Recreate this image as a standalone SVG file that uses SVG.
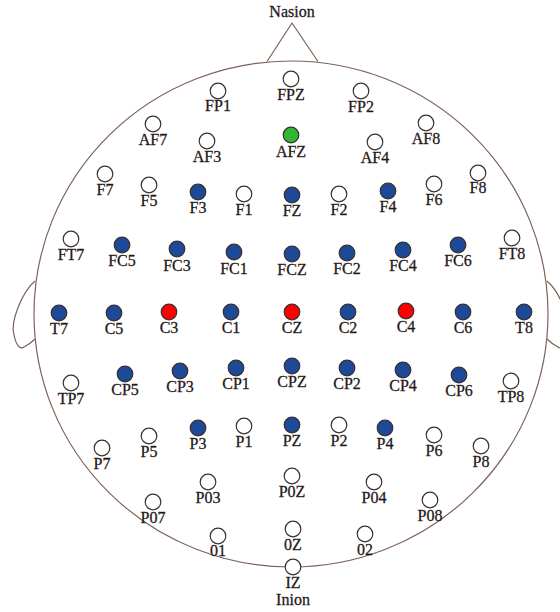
<svg xmlns="http://www.w3.org/2000/svg" width="560" height="612" viewBox="0 0 560 612">
<style>
.head{fill:none;stroke:#7d625a;stroke-width:1.2}
.e{stroke:#3a3030;stroke-width:1.2}
.w{fill:#ffffff}
.b{fill:#1c4a98}
.r{fill:#ff0000}
.g{fill:#2fb82f}
text{font-family:"Liberation Serif","Times New Roman",serif;font-size:16px;fill:#151515;stroke:#3a2828;stroke-width:0.3;text-anchor:middle}
</style>
<rect width="560" height="612" fill="#ffffff"/>
<g id="head">
<ellipse class="head" cx="291" cy="314" rx="257" ry="253"/>
<polyline class="head" points="267,61.5 292,23 318,61.5"/>
<path id="ear-left" class="head" d="M35,281 C22,292 10,322 14,335 C16,345 20,350 24,347 C28,345 32,342 35,339"/>
<path id="ear-right" class="head" d="M547,281 C560,292 572,322 568,335 C566,345 562,350 558,347 C554,345 550,342 547,339"/>
</g>
<g id="nasion"><text x="292" y="17">Nasion</text></g>
<g id="inion"><text x="293" y="605">Inion</text></g>
<g id="connectors"></g>
<g id="electrodes">
<g id="FP1"><circle class="e w" cx="218" cy="91" r="7.8"/><text x="218" y="111">FP1</text></g>
<g id="FPZ"><circle class="e w" cx="291" cy="79" r="7.8"/><text x="291" y="100">FPZ</text></g>
<g id="FP2"><circle class="e w" cx="361" cy="91" r="7.8"/><text x="361" y="112">FP2</text></g>
<g id="AF7"><circle class="e w" cx="153" cy="124" r="7.8"/><text x="153" y="145">AF7</text></g>
<g id="AF3"><circle class="e w" cx="207" cy="141" r="7.8"/><text x="207" y="162">AF3</text></g>
<g id="AFZ"><circle class="e g" cx="291" cy="135" r="7.8"/><text x="291" y="157">AFZ</text></g>
<g id="AF4"><circle class="e w" cx="375" cy="142" r="7.8"/><text x="375" y="163">AF4</text></g>
<g id="AF8"><circle class="e w" cx="426" cy="123" r="7.8"/><text x="426" y="144">AF8</text></g>
<g id="F7"><circle class="e w" cx="105" cy="174" r="7.8"/><text x="105" y="195">F7</text></g>
<g id="F5"><circle class="e w" cx="149" cy="185" r="7.8"/><text x="149" y="206">F5</text></g>
<g id="F3"><circle class="e b" cx="198" cy="192" r="7.8"/><text x="198" y="213">F3</text></g>
<g id="F1"><circle class="e w" cx="244" cy="194" r="7.8"/><text x="244" y="215">F1</text></g>
<g id="FZ"><circle class="e b" cx="292" cy="195" r="7.8"/><text x="292" y="216">FZ</text></g>
<g id="F2"><circle class="e w" cx="339" cy="194" r="7.8"/><text x="339" y="215">F2</text></g>
<g id="F4"><circle class="e b" cx="388" cy="191" r="7.8"/><text x="388" y="212">F4</text></g>
<g id="F6"><circle class="e w" cx="434" cy="184" r="7.8"/><text x="434" y="205">F6</text></g>
<g id="F8"><circle class="e w" cx="478" cy="173" r="7.8"/><text x="478" y="193">F8</text></g>
<g id="FT7"><circle class="e w" cx="71" cy="239" r="7.8"/><text x="71" y="260">FT7</text></g>
<g id="FC5"><circle class="e b" cx="122" cy="245" r="7.8"/><text x="122" y="266">FC5</text></g>
<g id="FC3"><circle class="e b" cx="177" cy="249" r="7.8"/><text x="177" y="271">FC3</text></g>
<g id="FC1"><circle class="e b" cx="234" cy="252" r="7.8"/><text x="234" y="274">FC1</text></g>
<g id="FCZ"><circle class="e b" cx="292" cy="254" r="7.8"/><text x="292" y="275">FCZ</text></g>
<g id="FC2"><circle class="e b" cx="347" cy="253" r="7.8"/><text x="347" y="274">FC2</text></g>
<g id="FC4"><circle class="e b" cx="403" cy="250" r="7.8"/><text x="403" y="271">FC4</text></g>
<g id="FC6"><circle class="e b" cx="458" cy="245" r="7.8"/><text x="458" y="266">FC6</text></g>
<g id="FT8"><circle class="e w" cx="512" cy="238" r="7.8"/><text x="512" y="259">FT8</text></g>
<g id="T7"><circle class="e b" cx="59" cy="313" r="7.8"/><text x="59" y="334">T7</text></g>
<g id="C5"><circle class="e b" cx="114" cy="313" r="7.8"/><text x="114" y="334">C5</text></g>
<g id="C3"><circle class="e r" cx="169" cy="312" r="7.8"/><text x="169" y="333">C3</text></g>
<g id="C1"><circle class="e b" cx="231" cy="312" r="7.8"/><text x="231" y="333">C1</text></g>
<g id="CZ"><circle class="e r" cx="292" cy="312" r="7.8"/><text x="292" y="333">CZ</text></g>
<g id="C2"><circle class="e b" cx="348" cy="312" r="7.8"/><text x="348" y="333">C2</text></g>
<g id="C4"><circle class="e r" cx="406" cy="311" r="7.8"/><text x="406" y="332">C4</text></g>
<g id="C6"><circle class="e b" cx="463" cy="312" r="7.8"/><text x="463" y="333">C6</text></g>
<g id="T8"><circle class="e b" cx="524" cy="312" r="7.8"/><text x="524" y="333">T8</text></g>
<g id="TP7"><circle class="e w" cx="71" cy="383" r="7.8"/><text x="71" y="404">TP7</text></g>
<g id="CP5"><circle class="e b" cx="125" cy="374" r="7.8"/><text x="125" y="395">CP5</text></g>
<g id="CP3"><circle class="e b" cx="180" cy="371" r="7.8"/><text x="180" y="392">CP3</text></g>
<g id="CP1"><circle class="e b" cx="236" cy="368" r="7.8"/><text x="236" y="389">CP1</text></g>
<g id="CPZ"><circle class="e b" cx="292" cy="366" r="7.8"/><text x="292" y="387">CPZ</text></g>
<g id="CP2"><circle class="e b" cx="347" cy="368" r="7.8"/><text x="347" y="389">CP2</text></g>
<g id="CP4"><circle class="e b" cx="403" cy="370" r="7.8"/><text x="403" y="391">CP4</text></g>
<g id="CP6"><circle class="e b" cx="459" cy="375" r="7.8"/><text x="459" y="396">CP6</text></g>
<g id="TP8"><circle class="e w" cx="511" cy="381" r="7.8"/><text x="511" y="402">TP8</text></g>
<g id="P7"><circle class="e w" cx="102" cy="448" r="7.8"/><text x="102" y="469">P7</text></g>
<g id="P5"><circle class="e w" cx="149" cy="436" r="7.8"/><text x="149" y="457">P5</text></g>
<g id="P3"><circle class="e b" cx="198" cy="428" r="7.8"/><text x="198" y="449">P3</text></g>
<g id="P1"><circle class="e w" cx="244" cy="426" r="7.8"/><text x="244" y="447">P1</text></g>
<g id="PZ"><circle class="e b" cx="292" cy="425" r="7.8"/><text x="292" y="446">PZ</text></g>
<g id="P2"><circle class="e w" cx="339" cy="425" r="7.8"/><text x="339" y="446">P2</text></g>
<g id="P4"><circle class="e b" cx="385" cy="428" r="7.8"/><text x="385" y="449">P4</text></g>
<g id="P6"><circle class="e w" cx="434" cy="435" r="7.8"/><text x="434" y="456">P6</text></g>
<g id="P8"><circle class="e w" cx="481" cy="446" r="7.8"/><text x="481" y="467">P8</text></g>
<g id="P07"><circle class="e w" cx="153" cy="502" r="7.8"/><text x="153" y="523">P07</text></g>
<g id="P03"><circle class="e w" cx="208" cy="482" r="7.8"/><text x="208" y="503">P03</text></g>
<g id="P0Z"><circle class="e w" cx="292" cy="476" r="7.8"/><text x="292" y="497">P0Z</text></g>
<g id="P04"><circle class="e w" cx="374" cy="482" r="7.8"/><text x="374" y="503">P04</text></g>
<g id="P08"><circle class="e w" cx="430" cy="500" r="7.8"/><text x="430" y="521">P08</text></g>
<g id="O1"><circle class="e w" cx="218" cy="536" r="7.8"/><text x="218" y="556">01</text></g>
<g id="OZ"><circle class="e w" cx="293" cy="529" r="7.8"/><text x="293" y="550">0Z</text></g>
<g id="O2"><circle class="e w" cx="365" cy="534" r="7.8"/><text x="365" y="555">02</text></g>
<g id="IZ"><circle class="e w" cx="293" cy="567" r="7.8"/><text x="293" y="588">IZ</text></g>
</g>
</svg>
